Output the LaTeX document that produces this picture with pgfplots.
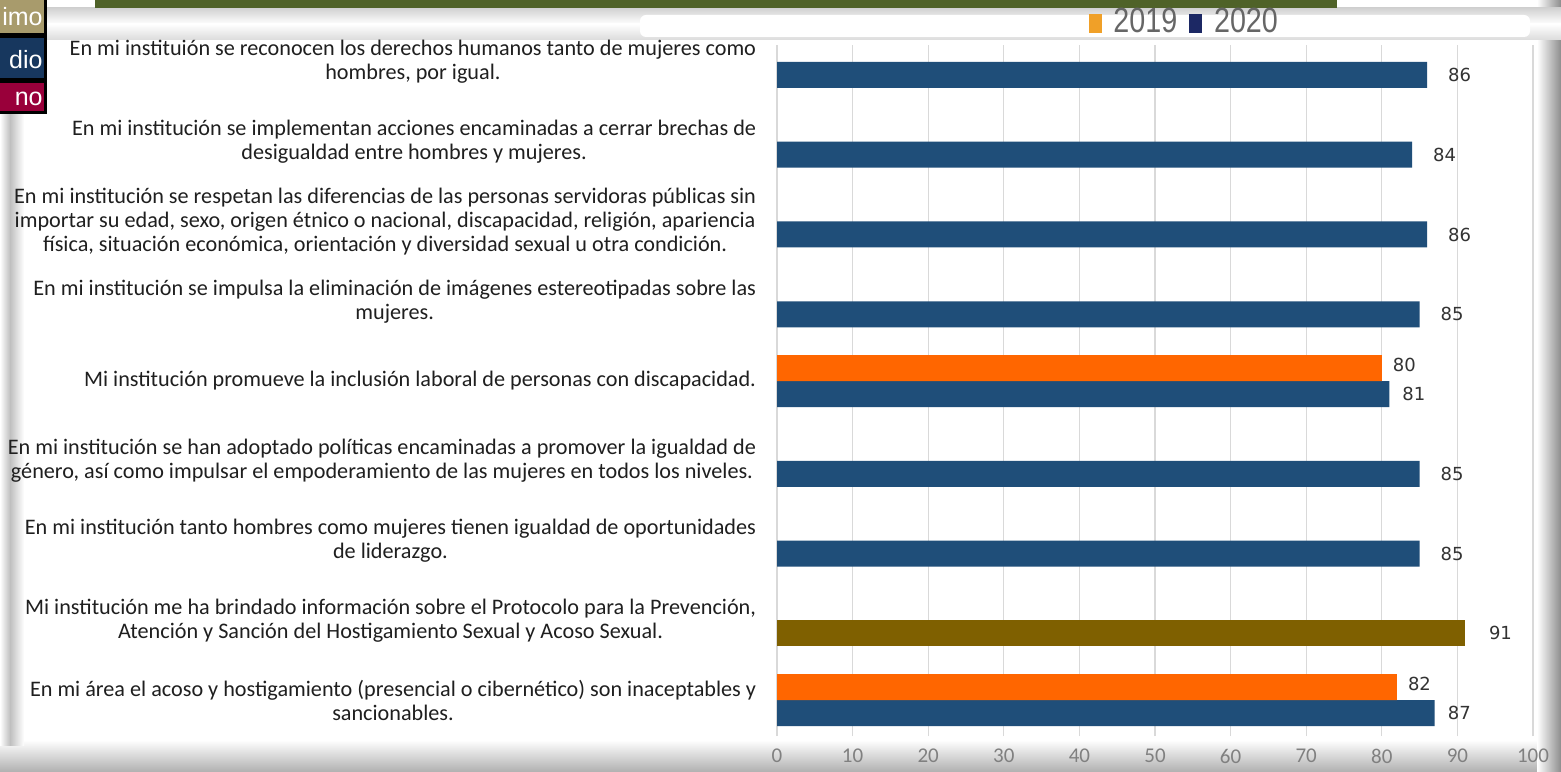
\documentclass[border=0pt]{standalone}
\usepackage{pgfplots}
\pgfplotsset{compat=1.18}
\usepackage{fontspec}
\setmainfont{Carlito}
\newfontfamily\valfont{DejaVu Sans}
\newfontfamily\legfont[FakeStretch=0.82]{Liberation Sans}
\newfontfamily\boxfont{Liberation Sans}
\definecolor{c2020}{RGB}{31,78,121}
\definecolor{c2019}{RGB}{255,102,0}
\definecolor{colive}{RGB}{127,96,0}
\definecolor{legorange}{RGB}{240,160,40}
\definecolor{legnavy}{RGB}{28,40,100}
\definecolor{topgreen}{RGB}{79,98,40}
\definecolor{boxtan}{RGB}{168,155,108}
\definecolor{boxnavy}{RGB}{23,55,94}
\definecolor{boxred}{RGB}{153,0,58}

\begin{document}
\begin{tikzpicture}
\path[use as bounding box] (0,0) rectangle (780.5pt,385.5pt);
\fill[white] (0,0) rectangle (780.5pt,385.5pt);

% frame shadows, drawn in pixel units from the top left corner
\begin{scope}[yshift=385.5pt, x=0.5pt, y=-0.5pt]
  \shade[top color=white, bottom color=black!30] (0,740) rectangle (1561,771);
  \shade[left color=white, right color=black!45] (1537,0) rectangle (1561,771);
  \shade[left color=white, right color=black!25] (0,105) rectangle (10,745);
  \shade[left color=black!25, right color=white] (10,105) rectangle (24,745);
  \shade[top color=black!18, bottom color=white] (0,8) rectangle (1561,24);
  \shade[top color=white, bottom color=black!14] (0,24) rectangle (1561,40);
  \fill[white, rounded corners=3pt] (640,15) rectangle (1530,37);
  \fill[white] (24,42) rectangle (1537,740);
  \fill[topgreen] (95,0) rectangle (1337,8);
  \filldraw[boxtan, draw=black, line width=1.5pt] (-5,-5) rectangle (45,35);
  \filldraw[boxnavy, draw=black, line width=1.5pt] (-5,37) rectangle (45,80);
  \filldraw[boxred, draw=black, line width=1.5pt] (-5,82) rectangle (45,113);
  \node[anchor=east, text=white, font=\boxfont\fontsize{12.5}{13}\selectfont, inner sep=0pt] at (43,17) {imo};
  \node[anchor=east, text=white, font=\boxfont\fontsize{12.5}{13}\selectfont, inner sep=0pt] at (43,60) {dio};
  \node[anchor=east, text=white, font=\boxfont\fontsize{12.5}{13}\selectfont, inner sep=0pt] at (43,99) {no};
\end{scope}

\begin{axis}[
  at={(388.5pt,17.5pt)}, anchor=south west,
  scale only axis, width=378pt, height=345.5pt,
  xbar, bar width=13pt,
  xmin=0, xmax=100,
  ymin=0.549, ymax=9.213,
  xtick={0,10,...,100},
  ytick={1,...,9},
  /pgf/number format/assume math mode=true,
  axis line style={draw=none},
  tick style={draw=none},
  xmajorgrids, grid style={black!15, line width=0.6pt},
  xticklabel style={font=\fontsize{10.5}{12}\selectfont, text=black!50, yshift=-3pt},
  yticklabel style={font=\fontsize{11.1}{12}\selectfont, text=black!88, align=center, inner sep=0pt, xshift=-6pt},
  yticklabels={
    {En mi área el acoso y hostigamiento (presencial o cibernético) son inaceptables y\\sancionables.},
    {Mi institución me ha brindado información sobre el Protocolo para la Prevención,\\Atención y Sanción del Hostigamiento Sexual y Acoso Sexual.},
    {En mi institución tanto hombres como mujeres tienen igualdad de oportunidades\\de liderazgo.},
    {En mi institución se han adoptado políticas encaminadas a promover la igualdad de\\género, así como impulsar el empoderamiento de las mujeres en todos los niveles.},
    {Mi institución promueve la inclusión laboral de personas con discapacidad.},
    {En mi institución se impulsa la eliminación de imágenes estereotipadas sobre las\\mujeres.},
    {En mi institución se respetan las diferencias de las personas servidoras públicas sin\\importar su edad, sexo, origen étnico o nacional, discapacidad, religión, apariencia\\física, situación económica, orientación y diversidad sexual u otra condición.},
    {En mi institución se implementan acciones encaminadas a cerrar brechas de\\desigualdad entre hombres y mujeres.},
    {En mi instituión se reconocen los derechos humanos tanto de mujeres como\\hombres, por igual.}
  },
  nodes near coords,
  nodes near coords style={font=\valfont\fontsize{9}{10}\selectfont, text=black!80, anchor=west},
  legend style={at={(0.54,1.033)}, anchor=center, draw=none, fill=none,
    legend columns=2, font=\legfont\fontsize{17.5}{18}\selectfont,
    text=black!60, column sep=4pt, inner sep=0pt},
  legend cell align=left,
]
\addlegendimage{legend image code/.code={\fill[legorange] (1pt,-5pt) rectangle (7pt,4pt);}}
\addlegendimage{legend image code/.code={\fill[legnavy] (1pt,-5pt) rectangle (7pt,4pt);}}
\legend{2019,2020}
% 2020, single bars
\addplot[fill=c2020, draw=none, bar shift=-6.5pt,
  nodes near coords style={xshift=7pt}]
  coordinates {(86,9) (84,8) (86,7) (85,6) (85,4) (85,3)};
% 2020, paired bars
\addplot[fill=c2020, draw=none, bar shift=-6.5pt,
  nodes near coords style={xshift=3pt}]
  coordinates {(81,5) (87,1)};
% 2019
\addplot[fill=c2019, draw=none, bar shift=6.5pt,
  nodes near coords style={xshift=2pt, yshift=1.5pt}]
  coordinates {(80,5) (82,1)};
% single olive bar
\addplot[fill=colive, draw=none, bar shift=-6.5pt,
  nodes near coords style={xshift=8.5pt}]
  coordinates {(91,2)};
\end{axis}
\end{tikzpicture}
\end{document}
